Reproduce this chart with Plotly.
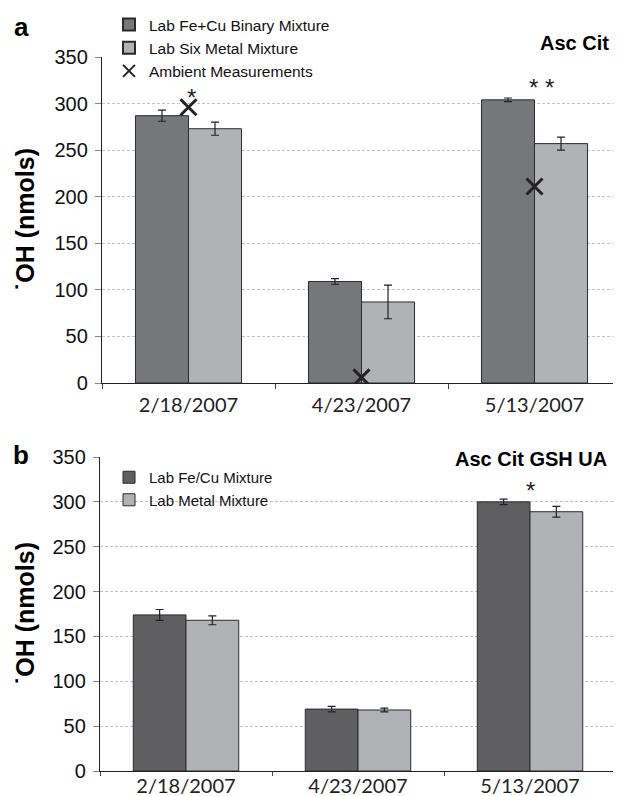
import plotly.graph_objects as go

dates = ["2/18/2007", "4/23/2007", "5/13/2007"]

# Panel a (Asc Cit)
a_fecu = [287, 109, 304]
a_fecu_err = [6, 3, 2]
a_six = [273, 87, 257]
a_six_err = [7, 18, 7]
a_ambient = [296, 6, 211]

# Panel b (Asc Cit GSH UA)
b_fecu = [174, 69, 300]
b_fecu_err = [6, 3, 3]
b_metal = [168, 68, 289]
b_metal_err = [5, 2, 6]

y_ticks = [0, 50, 100, 150, 200, 250, 300, 350]

# page body has an 8px margin: size the figure to fit the window
OFF = 8
W, H = 621 - OFF, 796 - OFF


def fx(x):
    return (x - OFF) / W


def fy(y):
    return 1 - (y - OFF) / H


C_A1 = "#76777b"
C_B1 = "#5f5f61"
C_2 = "#b1b2b6"
EDGE = "#2b2b2b"

fig = go.Figure()


def err(vals):
    return dict(type="data", array=vals, visible=True, color="#222222", thickness=1.2, width=4)


fig.add_trace(go.Bar(x=dates, y=a_fecu, name="Lab Fe+Cu Binary Mixture",
                     marker=dict(color=C_A1, line=dict(color=EDGE, width=1)),
                     error_y=err(a_fecu_err), xaxis="x", yaxis="y", legend="legend", legendgroup="a1"))
fig.add_trace(go.Bar(x=dates, y=a_six, name="Lab Six Metal Mixture",
                     marker=dict(color=C_2, line=dict(color=EDGE, width=1)),
                     error_y=err(a_six_err), xaxis="x", yaxis="y", legend="legend", legendgroup="a2"))
fig.add_trace(go.Scatter(x=dates, y=a_ambient, name="Ambient Measurements", mode="markers",
                         marker=dict(symbol="x-thin", size=16, line=dict(color="#222222", width=3), color="#222222"),
                         xaxis="x", yaxis="y", legend="legend", legendgroup="a3"))

fig.add_trace(go.Bar(x=dates, y=b_fecu, name="Lab Fe/Cu Mixture",
                     marker=dict(color=C_B1, line=dict(color=EDGE, width=1)),
                     error_y=err(b_fecu_err), xaxis="x2", yaxis="y2", legend="legend2"))
fig.add_trace(go.Bar(x=dates, y=b_metal, name="Lab Metal Mixture",
                     marker=dict(color=C_2, line=dict(color=EDGE, width=1)),
                     error_y=err(b_metal_err), xaxis="x2", yaxis="y2", legend="legend2"))


def yax(domain, anchor):
    return dict(domain=domain, anchor=anchor, range=[0, 350], tickvals=y_ticks,
                showgrid=True, gridcolor="#c4c4c4", griddash="3px,2px", gridwidth=1,
                showline=True, linecolor="#222222", linewidth=1.3,
                ticks="outside", ticklen=6, tickcolor="#888888", ticklabelstandoff=3,
                tickfont=dict(family="Liberation Sans", size=20, color="#111111"),
                zeroline=False, fixedrange=True, automargin=False)


def xax(domain, anchor, standoff, ticklen):
    return dict(domain=domain, anchor=anchor, type="category", tickson="boundaries",
                showline=True, linecolor="#222222", linewidth=1.3,
                ticks="outside", ticklen=ticklen, tickcolor="#444444", ticklabelstandoff=standoff,
                tickfont=dict(family="Lato", size=20, color="#222222"),
                showgrid=False, fixedrange=True, automargin=False)


leg_font = dict(family="Liberation Sans", size=15.5, color="#111111")
fig.update_layout(
    width=W, height=H,
    margin=dict(l=0, r=0, t=0, b=0, autoexpand=False),
    paper_bgcolor="white", plot_bgcolor="white",
    barmode="group", bargap=0.387, bargroupgap=0,
    xaxis=xax([fx(102), fx(621)], "y", 4, 5),
    yaxis=yax([fy(383), fy(57)], "x"),
    xaxis2=xax([fx(100), fx(616)], "y2", -3, 4),
    yaxis2=yax([fy(771), fy(457)], "x2"),
    legend=dict(x=fx(109), y=fy(4), xanchor="left", yanchor="top", xref="container", yref="container",
                bgcolor="rgba(0,0,0,0)", font=leg_font, tracegroupgap=0, itemwidth=30, itemsizing="constant"),
    legend2=dict(x=fx(109), y=fy(461), xanchor="left", yanchor="top", xref="container", yref="container",
                 bgcolor="rgba(0,0,0,0)", font=dict(family="Liberation Sans", size=15, color="#111111"),
                 itemwidth=30),
    showlegend=True,
)

ann = []
ann.append(dict(text="<b>a</b>", x=fx(21), y=fy(27), xref="paper", yref="paper", showarrow=False,
                xanchor="center", yanchor="middle", font=dict(family="Liberation Sans", size=26, color="#000")))
ann.append(dict(text="<b>b</b>", x=fx(21), y=fy(455), xref="paper", yref="paper", showarrow=False,
                xanchor="center", yanchor="middle", font=dict(family="Liberation Sans", size=26, color="#000")))
ann.append(dict(text="<b>Asc Cit</b>", x=fx(611), y=fy(43), xref="paper", yref="paper", xanchor="right",
                yanchor="middle", showarrow=False, font=dict(family="Liberation Sans", size=20, color="#000")))
ann.append(dict(text="<b>Asc Cit GSH UA</b>", x=fx(609), y=fy(459), xref="paper", yref="paper", xanchor="right",
                yanchor="middle", showarrow=False, font=dict(family="Liberation Sans", size=20, color="#000")))
for yc in [(57 + 383) / 2, (457 + 771) / 2]:
    ann.append(dict(text="<b>˙OH (nmols)</b>", x=fx(25), y=fy(yc), xref="paper", yref="paper", showarrow=False,
                    xanchor="center", yanchor="middle", textangle=-90,
                    font=dict(family="Liberation Sans", size=25, color="#000")))
# significance markers
ann.append(dict(text="*", x=dates[0], y=306, xref="x", yref="y", showarrow=False, xshift=3,
                font=dict(family="Liberation Sans", size=24, color="#222")))
ann.append(dict(text="* *", x=dates[2], y=317, xref="x", yref="y", showarrow=False, xshift=7,
                font=dict(family="Liberation Sans", size=24, color="#222")))
ann.append(dict(text="*", x=dates[2], y=313, xref="x2", yref="y2", showarrow=False,
                font=dict(family="Liberation Sans", size=24, color="#222")))
fig.update_layout(annotations=ann)

fig.write_html("out.html")
